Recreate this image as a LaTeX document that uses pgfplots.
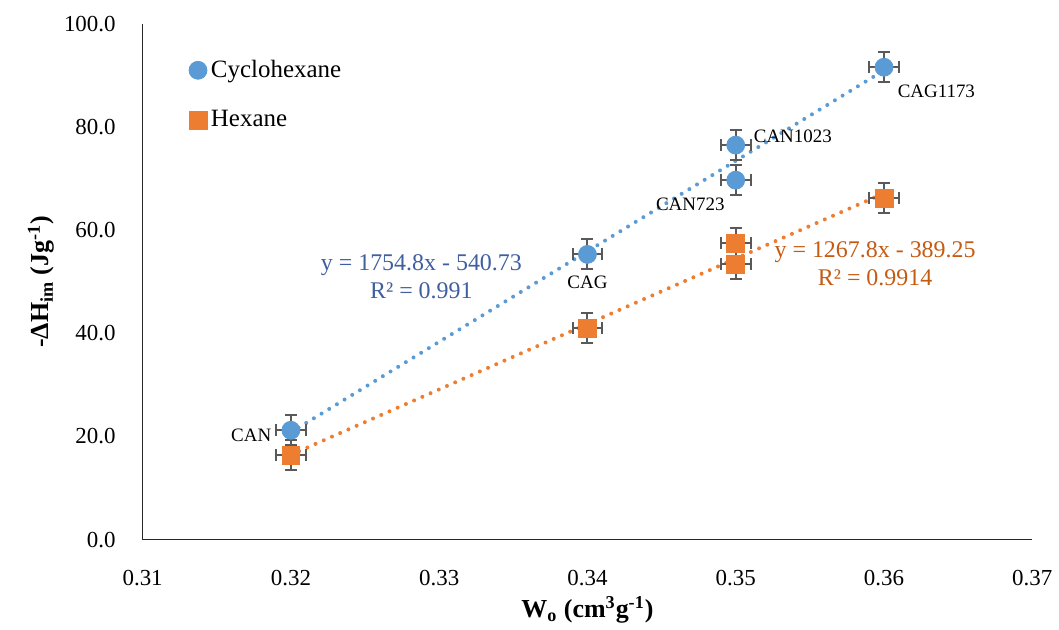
\documentclass[border=0pt]{standalone}
\usepackage{pgfplots}
\pgfplotsset{compat=1.18}
\usepackage{fontspec}
\setmainfont{Liberation Serif}
\definecolor{cblue}{HTML}{5B9BD5}
\definecolor{corange}{HTML}{ED7D31}
\definecolor{eqblue}{HTML}{3F5F9F}
\definecolor{eqorange}{HTML}{C55A11}
\definecolor{errgray}{HTML}{595959}
\begin{document}
\begin{tikzpicture}
\path (-71.5pt,-40.25pt) rectangle (458pt,270.5pt);
\begin{axis}[
  at={(0,0)}, anchor=south west,
  width=446pt, height=258.5pt, scale only axis,
  xmin=0.31, xmax=0.37, ymin=0, ymax=100,
  xtick={0.31,0.32,0.33,0.34,0.35,0.36,0.37},
  ytick={0,20,40,60,80,100},
  axis x line=bottom, axis y line=left,
  axis line style={-, line width=0.8pt, black!85},
  major tick length=0pt,
  clip=false,
  /pgf/number format/assume math mode=true,
  xticklabel style={yshift=-12pt, /pgf/number format/fixed, /pgf/number format/fixed zerofill, /pgf/number format/precision=2},
  yticklabel style={xshift=-10pt, /pgf/number format/fixed, /pgf/number format/fixed zerofill, /pgf/number format/precision=1},
  tick label style={font=\fontsize{11.5}{13}\selectfont},
  xlabel={\bfseries W\textsubscript{o} (cm\textsuperscript{3}g\textsuperscript{-1})},
  ylabel={\bfseries -ΔH\textsubscript{im} (Jg\textsuperscript{-1})},
  label style={font=\fontsize{13}{15}\selectfont},
  xlabel style={yshift=1.5pt},
  ylabel style={yshift=-2pt},
  legend style={draw=none, fill=none, at={(0.045,0.946)}, anchor=north west,
    font=\fontsize{12.5}{14}\selectfont, row sep=11pt},
  legend cell align=left,
]
% trendlines
\addplot[forget plot, cblue, line width=2pt, line cap=round, dash pattern=on 0pt off 4.5pt] coordinates {(0.32,20.806) (0.36,90.998)};
\addplot[forget plot, corange, line width=2pt, line cap=round, dash pattern=on 0pt off 4.5pt] coordinates {(0.32,16.446) (0.36,67.158)};
% data
\addplot[only marks, mark=*, mark size=4.5pt, mark options={draw=cblue, fill=cblue},
  error bars/.cd, x dir=both, x explicit, y dir=both, y explicit,
  error bar style={errgray, line width=1pt},
  error mark options={rotate=90, errgray, line width=1pt, mark size=3pt}]
  table[x=x, y=y, x error=ex, y error=ey] {
  x     y     ex     ey
  0.32  21.2  0.001  2.9
  0.34  55.3  0.001  2.9
  0.35  76.5  0.001  2.9
  0.35  69.7  0.001  2.9
  0.36  91.6  0.001  2.9
};
\addlegendentry{Cyclohexane}
\addplot[only marks, mark=square*, mark size=4.5pt, mark options={draw=corange, fill=corange},
  error bars/.cd, x dir=both, x explicit, y dir=both, y explicit,
  error bar style={errgray, line width=1pt},
  error mark options={rotate=90, errgray, line width=1pt, mark size=3pt}]
  table[x=x, y=y, x error=ex, y error=ey] {
  x     y     ex     ey
  0.32  16.4  0.001  2.9
  0.34  41.0  0.001  2.9
  0.35  57.5  0.001  2.9
  0.35  53.4  0.001  2.9
  0.36  66.2  0.001  2.9
};
\addlegendentry{Hexane}
% point labels
\begin{scope}[every node/.style={font=\fontsize{9.5}{11}\selectfont, inner sep=0pt}]
\node[anchor=east] at (axis cs:0.3187,20.2) {CAN};
\node[anchor=center] at (axis cs:0.34,49.9) {CAG};
\node[anchor=west] at (axis cs:0.3512,78.2) {CAN1023};
\node[anchor=west] at (axis cs:0.3446,65.0) {CAN723};
\node[anchor=west] at (axis cs:0.3609,87.0) {CAG1173};
\end{scope}
% equations
\node[font=\fontsize{12}{14}\selectfont, text=eqblue, align=center, inner sep=0pt] at (axis cs:0.3288,51.0) {y = 1754.8x - 540.73\\R² = 0.991};
\node[font=\fontsize{12}{14}\selectfont, text=eqorange, align=center, inner sep=0pt] at (axis cs:0.3594,53.5) {y = 1267.8x - 389.25\\R² = 0.9914};
\end{axis}
\end{tikzpicture}
\end{document}
